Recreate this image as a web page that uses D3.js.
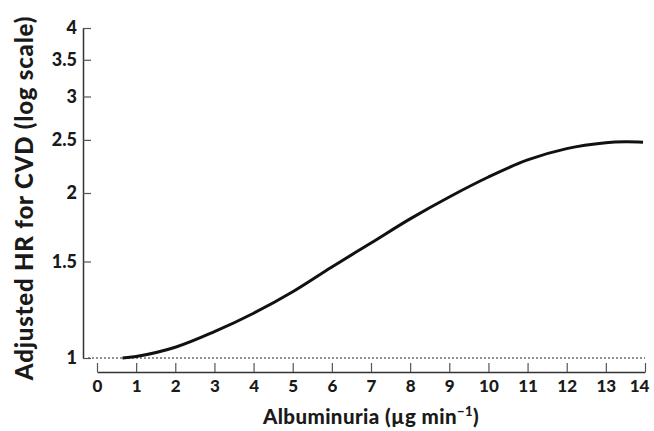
<!DOCTYPE html>
<html>
<head>
<meta charset="utf-8">
<script src="https://cdn.jsdelivr.net/npm/d3@7"></script>
<style>
  body { margin: 0; background: #fff; }
  text { font-family: Lato, "Open Sans", sans-serif; font-weight: 900; fill: #1a1a1a; }
</style>
</head>
<body>
<div class="canvas"></div>
<script>
const svgWidth = 654;
const svgHeight = 431;

// data
const albuminuria = [0.65, 1, 2, 3, 4, 5, 6, 7, 8, 9, 10, 11, 12, 13, 13.5, 13.95];
const adjustedHR = [1.0, 1.006, 1.046, 1.117, 1.207, 1.321, 1.466, 1.621, 1.794, 1.967, 2.139, 2.298, 2.41, 2.47, 2.48, 2.476];
const xTicks = d3.range(0, 15);
const yTicks = [1, 1.5, 2, 2.5, 3, 3.5, 4];
const refHR = 1;

const svg = d3.select('.canvas')
    .append('svg')
    .attr('width', svgWidth)
    .attr('height', svgHeight);

// scales
const x = d3.scaleLinear()
    .domain([0, 14])
    .range([97, 645]);

const y = d3.scaleLog()
    .domain([1, 4])
    .range([358, 28]);

// reference line at HR = 1
svg.append('line')
    .attr('x1', 88)
    .attr('x2', x(14))
    .attr('y1', y(refHR))
    .attr('y2', y(refHR))
    .attr('stroke', '#222')
    .attr('stroke-width', 1)
    .attr('stroke-dasharray', '2,2');

// axes
const yAxis = d3.axisLeft(y)
    .tickValues(yTicks)
    .tickFormat(d => d)
    .tickSizeInner(-8)
    .tickSizeOuter(0)
    .tickPadding(6);

const xAxis = d3.axisBottom(x)
    .tickValues(xTicks)
    .tickSizeInner(-9)
    .tickSizeOuter(0)
    .tickPadding(8);

const yAxisGroup = svg.append('g')
    .attr('transform', 'translate(83, 0)')
    .call(yAxis);

const xAxisGroup = svg.append('g')
    .attr('transform', 'translate(0, 372)')
    .call(xAxis);

[yAxisGroup, xAxisGroup].forEach(g => {
    g.select('.domain').attr('stroke', '#333').attr('stroke-width', 1.5);
    g.selectAll('.tick line').attr('stroke', '#555').attr('stroke-width', 1.2);
    g.selectAll('.tick text')
        .style('font-size', '17px')
        .style('font-family', 'Lato, sans-serif')
        .style('font-weight', '900')
        .attr('fill', '#1a1a1a');
});
yAxisGroup.selectAll('.tick text').style('font-size', '18px');
// last label sits a little inside the edge, as in the original
xAxisGroup.selectAll('.tick text').filter(d => d === 14).attr('dx', -6);

// the curve
const line = d3.line()
    .x((d, i) => x(albuminuria[i]))
    .y(d => y(d))
    .curve(d3.curveCatmullRom);

svg.append('path')
    .datum(adjustedHR)
    .attr('d', line)
    .attr('fill', 'none')
    .attr('stroke', '#111')
    .attr('stroke-width', 3);

// axis titles
const xTitle = svg.append('text')
    .attr('x', (x(0) + x(14)) / 2)
    .attr('y', 424)
    .attr('text-anchor', 'middle')
    .style('font-size', '20.5px')
    .style('letter-spacing', '0.4px');
xTitle.append('tspan').text('Albuminuria (\u00b5g min');
xTitle.append('tspan').text('\u22121').attr('dy', -8).style('font-size', '13px');
xTitle.append('tspan').text(')').attr('dy', 8);

svg.append('text')
    .attr('transform', 'translate(33, 198) rotate(-90)')
    .attr('text-anchor', 'middle')
    .style('font-size', '24px')
    .style('letter-spacing', '0.8px')
    .text('Adjusted HR for CVD (log scale)');
</script>
</body>
</html>
